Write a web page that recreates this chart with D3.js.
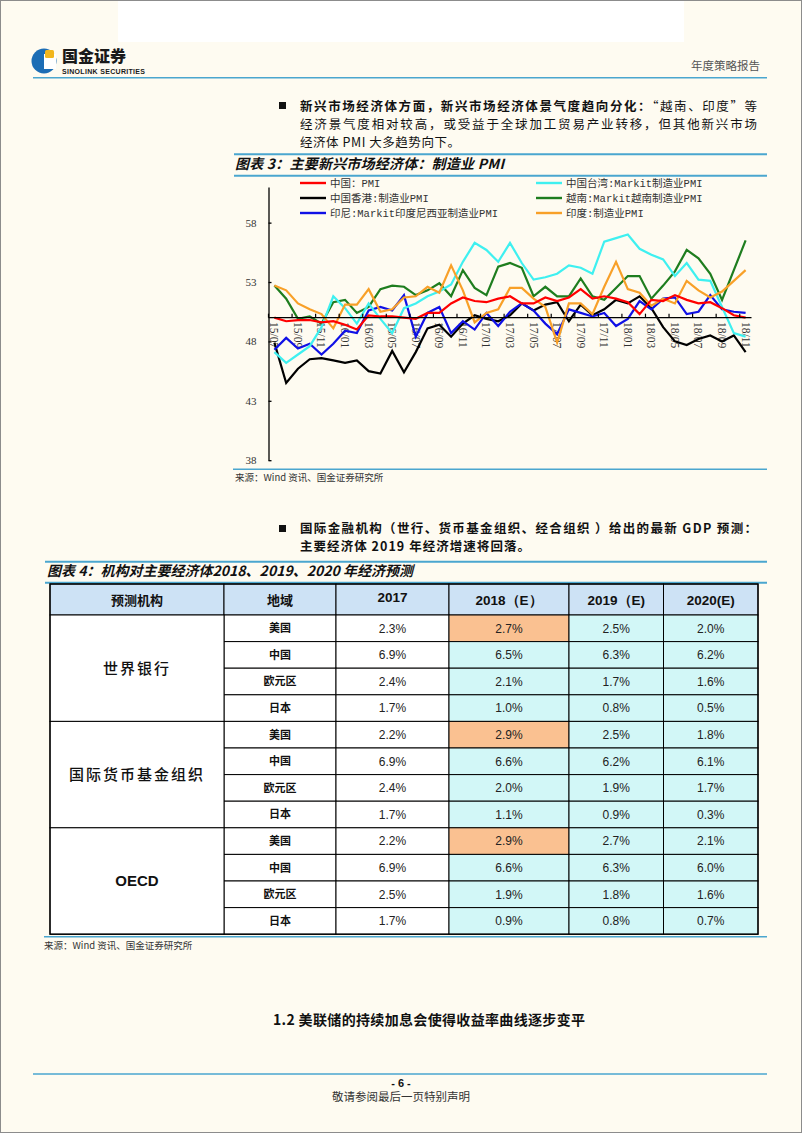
<!DOCTYPE html>
<html>
<meta charset="utf-8">
<style>
body {
  margin: 0;
  background: #fefbf1;
}
svg { display: block; }
.cn { font-family: "Noto Sans CJK SC", sans-serif; }
.axis text { font-family: "Liberation Serif", serif; font-size: 11px; fill: #333; }
.axis path, .axis line { stroke: #000; stroke-width: 1.3; }
</style>
<body>
<script src="https://d3js.org/d3.v7.min.js"></script>
<script>
// months on the x axis
var months = ["15/07","15/08","15/09","15/10","15/11","15/12","16/01","16/02","16/03","16/04","16/05","16/06",
  "16/07","16/08","16/09","16/10","16/11","16/12","17/01","17/02","17/03","17/04","17/05","17/06",
  "17/07","17/08","17/09","17/10","17/11","17/12","18/01","18/02","18/03","18/04","18/05","18/06",
  "18/07","18/08","18/09","18/10","18/11"];

// PMI series
var chinaPMI = [50.0,49.7,49.8,49.8,49.6,49.7,49.4,49.0,50.2,50.1,50.1,50.0,49.9,50.4,50.4,51.2,51.7,51.4,51.3,51.6,
  51.8,51.2,51.2,51.7,51.4,51.7,52.4,51.6,51.8,51.6,51.3,50.3,51.5,51.4,51.9,51.5,51.2,51.3,50.8,50.2,50.0];
var taiwanPMI = [47.1,46.2,46.9,47.6,49.2,51.8,50.8,49.5,51.2,49.9,48.7,50.8,51.2,51.8,52.2,52.8,54.7,56.3,55.7,54.7,
  56.3,54.6,53.2,53.4,53.7,54.4,54.2,53.7,56.4,56.7,57.0,55.8,55.3,54.9,53.5,54.6,53.2,53.1,50.9,48.7,48.4];
var hongkongPMI = [47.9,44.5,45.7,46.5,46.6,46.4,46.2,46.4,45.5,45.3,47.2,45.4,47.1,49.1,49.4,48.4,49.5,50.2,49.9,49.7,
  50.2,51.2,50.6,51.1,51.3,49.7,51.1,50.2,50.7,51.5,51.2,51.8,50.8,49.2,48.0,47.7,48.2,48.5,48.0,48.5,47.1];
var vietnamPMI = [52.7,51.6,49.9,50.1,49.5,51.3,51.5,50.4,50.9,52.4,52.7,52.6,51.9,52.3,52.9,51.8,54.0,52.5,51.9,54.3,
  54.6,54.2,51.8,52.6,51.8,51.8,53.3,51.8,51.5,52.5,53.5,53.5,51.6,52.7,53.9,55.7,55.0,53.7,51.5,54.0,56.5];
var indonesiaPMI = [47.3,48.3,47.4,47.8,46.9,47.8,48.9,48.7,50.6,50.9,50.6,51.9,48.4,50.4,50.9,48.7,49.7,49.0,50.4,49.3,
  50.5,51.2,50.6,49.5,48.6,50.7,50.4,50.1,50.4,49.3,49.9,51.4,50.7,51.6,51.7,50.3,50.5,51.9,50.7,50.5,50.4];
var indiaPMI = [52.7,52.3,51.2,50.7,50.3,49.1,51.1,51.1,52.4,50.5,50.7,51.7,51.8,52.6,52.1,54.4,52.3,49.6,50.4,50.7,
  52.5,52.5,51.6,50.9,47.9,51.2,51.2,50.3,52.6,54.7,52.4,52.1,51.0,51.6,51.2,53.1,52.3,51.7,52.2,53.1,54.0];

var seriesNames = ["中国：PMI","中国台湾:Markit制造业PMI","中国香港:制造业PMI","越南:Markit越南制造业PMI",
  "印尼:Markit印度尼西亚制造业PMI","印度:制造业PMI"];
var seriesColors = ["#ff0000","#3ff0f0","#000000","#1e7d1e","#1010e6","#f8a028"];
var yTicks = [38,43,48,53,58];

// table data
var orgs = ["世界银行","国际货币基金组织","OECD"];
var regions = ["美国","中国","欧元区","日本"];
var tableHeads = ["预测机构","地域","2017","2018（E）","2019（E)","2020(E)"];
var gdp2017 = [2.3,6.9,2.4,1.7, 2.2,6.9,2.4,1.7, 2.2,6.9,2.5,1.7];
var gdp2018 = [2.7,6.5,2.1,1.0, 2.9,6.6,2.0,1.1, 2.9,6.6,1.9,0.9];
var gdp2019 = [2.5,6.3,1.7,0.8, 2.5,6.2,1.9,0.9, 2.7,6.3,1.8,0.8];
var gdp2020 = [2.0,6.2,1.6,0.5, 1.8,6.1,1.7,0.3, 2.1,6.0,1.6,0.7];

var W = 802, H = 1133;
var blue = "#4aa6cf";

var svg = d3.select("body").append("svg")
    .attr("width", W)
    .attr("height", H);

svg.append("rect").attr("x",0.5).attr("y",0.5).attr("width",W-1).attr("height",H-1)
    .attr("fill","#fefbf1").attr("stroke","#8c8c8c");
svg.append("rect").attr("x",118).attr("y",1).attr("width",566).attr("height",41).attr("fill","#fff");

// ---- page header
svg.append("circle").attr("cx",44).attr("cy",61).attr("r",12.5).attr("fill","#1c6db5");
svg.append("rect").attr("x",44).attr("y",54).attr("width",12).attr("height",15).attr("fill","#fff");
svg.append("rect").attr("x",45).attr("y",50).attr("width",9).attr("height",8).attr("rx",1.5).attr("fill","#f2b61c");
svg.append("text").attr("class","cn").attr("x",62).attr("y",62)
    .style("font-size","16px").style("font-weight",900).attr("fill","#1a1a1a").text("国金证券");
svg.append("text").attr("x",62).attr("y",73.5).attr("textLength",83)
    .style("font-family","Liberation Sans").style("font-size","7px").style("font-weight","bold")
    .attr("fill","#1a1a1a").text("SINOLINK SECURITIES");
svg.append("text").attr("class","cn").attr("x",760).attr("y",69.5).attr("text-anchor","end")
    .style("font-size","11.5px").attr("fill","#555").text("年度策略报告");
svg.append("line").attr("x1",33).attr("x2",767).attr("y1",77.7).attr("y2",77.7)
    .attr("stroke",blue).attr("stroke-width",1.6);

// bullet paragraph helper
function para(x, y, parts, width) {
  var t = svg.append("text").attr("class","cn").attr("x",x).attr("y",y)
      .style("font-size","12.5px").attr("fill","#111");
  if (width) t.attr("textLength",width).attr("lengthAdjust","spacing");
  parts.forEach(function(p){
    t.append("tspan").style("font-weight", p[1] ? "bold" : "normal").text(p[0]);
  });
}
function bullet(y) {
  svg.append("rect").attr("x",279).attr("y",y-4).attr("width",7).attr("height",7).attr("fill","#111");
}

bullet(106);
para(300,110.5,[["新兴市场经济体方面，新兴市场经济体景气度趋向分化：",true],["“越南、印度”等",false]],457);
para(300,128.5,[["经济景气度相对较高，或受益于全球加工贸易产业转移，但其他新兴市场",false]],457);
para(300,146.5,[["经济体 PMI 大多趋势向下。",false]],160);

// figure 3 title
svg.append("line").attr("x1",234).attr("x2",767).attr("y1",154.3).attr("y2",154.3).attr("stroke",blue).attr("stroke-width",2);
svg.append("text").attr("class","cn").attr("x",235).attr("y",168.5).attr("textLength",269)
    .style("font-size","14px").style("font-weight","bold").style("font-style","italic")
    .attr("fill","#111").text("图表 3：主要新兴市场经济体：制造业 PMI");
svg.append("line").attr("x1",234).attr("x2",767).attr("y1",175.7).attr("y2",175.7).attr("stroke",blue).attr("stroke-width",2);

// ---- chart
var x = d3.scaleBand().domain(months).range([268.5, 751.5]);
var y = d3.scaleLinear().domain([38, 61]).range([460.2, 187]);
var cx = function(m){ return x(m) + x.bandwidth()/2; };

var yAxis = d3.axisLeft(y).tickValues(yTicks).tickSizeInner(-3).tickSizeOuter(0).tickPadding(12);
svg.append("g").attr("class","axis").attr("transform","translate(268.5,0)").call(yAxis);

var labelMonths = months.filter(function(d,i){ return i % 2 === 0; });

// x axis labels go under the lines
svg.append("g").selectAll("text")
    .data(labelMonths)
  .enter().append("text")
    .attr("transform", function(d){ return "translate(" + cx(d) + ",322) rotate(90)"; })
    .attr("dy","0.35em")
    .style("font-family","Liberation Serif").style("font-size","11.5px").attr("fill","#333")
    .text(function(d){ return d; });

var line = d3.line()
    .x(function(d,i){ return cx(months[i]); })
    .y(function(d){ return y(d); });

var allSeries = [chinaPMI, taiwanPMI, hongkongPMI, vietnamPMI, indonesiaPMI, indiaPMI];
var drawOrder = [2,4,3,1,5,0];
drawOrder.forEach(function(k){
  svg.append("path")
      .datum(allSeries[k])
      .attr("fill","none")
      .attr("stroke",seriesColors[k])
      .attr("stroke-width",2.2)
      .attr("stroke-linejoin","miter")
      .attr("d",line);
});

// horizontal axis at 50
svg.append("line").attr("x1",268.5).attr("x2",751.5).attr("y1",y(50)).attr("y2",y(50))
    .attr("stroke","#000").attr("stroke-width",1.4);
svg.append("g").selectAll("line")
    .data(labelMonths)
  .enter().append("line")
    .attr("x1",function(d){ return x(d); }).attr("x2",function(d){ return x(d); })
    .attr("y1",y(50)).attr("y2",y(50)-4)
    .attr("stroke","#000").attr("stroke-width",1.2);

// legend
var legend = svg.selectAll(".legend")
    .data(seriesNames)
  .enter().append("g")
    .attr("class","legend")
    .attr("transform", function(d,i){
      var col = [0,1,0,1,0,1][i], row = Math.floor(i/2);
      return "translate(" + (col ? 536 : 300) + "," + (183 + row*15) + ")";
    });
legend.append("line").attr("x1",0).attr("x2",26).attr("y1",0).attr("y2",0)
    .attr("stroke",function(d,i){ return seriesColors[i]; }).attr("stroke-width",2.4);
legend.append("text").attr("x",30).attr("dy","0.36em")
    .style("font-family","'Liberation Mono','Noto Sans CJK SC',monospace").style("font-size","10.5px")
    .attr("fill","#333").text(function(d){ return d; });

// source
svg.append("line").attr("x1",233).attr("x2",767).attr("y1",469.3).attr("y2",469.3).attr("stroke",blue).attr("stroke-width",1.6);
svg.append("text").attr("class","cn").attr("x",235).attr("y",481)
    .style("font-size","9.5px").attr("fill","#333").text("来源：Wind 资讯、国金证券研究所");

// ---- second paragraph
bullet(529);
para(300,533,[["国际金融机构（世行、货币基金组织、经合组织 ）给出的最新 GDP 预测：",true]],457);
para(300,551,[["主要经济体 2019 年经济增速将回落。",true]],230);

svg.append("line").attr("x1",45).attr("x2",767).attr("y1",561.7).attr("y2",561.7).attr("stroke",blue).attr("stroke-width",2);
svg.append("text").attr("class","cn").attr("x",47).attr("y",575.5).attr("textLength",366)
    .style("font-size","14px").style("font-weight","bold").style("font-style","italic")
    .attr("fill","#111").text("图表 4：机构对主要经济体2018、2019、2020 年经济预测");
svg.append("line").attr("x1",45).attr("x2",767).attr("y1",582.7).attr("y2",582.7).attr("stroke",blue).attr("stroke-width",2);

// ---- table
var colX = [50, 224, 336, 449, 569, 663.5, 758];
var headTop = 584, headH = 31, rowH = 26.6;
var rowTop = headTop + headH;

var rows = [];
orgs.forEach(function(o, g){
  regions.forEach(function(r, j){
    var k = g*4 + j;
    rows.push({org: o, group: g, region: r, vals: [gdp2017[k], gdp2018[k], gdp2019[k], gdp2020[k]]});
  });
});

var tbl = svg.append("g");
// header
tableHeads.forEach(function(h, c){
  tbl.append("rect").attr("x",colX[c]).attr("y",headTop).attr("width",colX[c+1]-colX[c]).attr("height",headH)
      .attr("fill","#cde2f5").attr("stroke","#000").attr("stroke-width",1);
  tbl.append("text").attr("x",(colX[c]+colX[c+1])/2).attr("y",headTop+headH/2 + (c==2 ? -2 : 1))
      .attr("dy","0.36em").attr("text-anchor","middle")
      .style("font-family", c < 2 ? "Noto Sans CJK SC" : "Liberation Sans")
      .style("font-size", c < 2 ? "13px" : "13.5px").style("font-weight","bold").attr("fill","#111")
      .text(h);
});

// body cells
rows.forEach(function(d, i){
  var ry = rowTop + i*rowH;
  tbl.append("rect").attr("x",colX[1]).attr("y",ry).attr("width",colX[2]-colX[1]).attr("height",rowH)
      .attr("fill","#fff").attr("stroke","#000");
  tbl.append("text").attr("class","cn").attr("x",(colX[1]+colX[2])/2).attr("y",ry+rowH/2).attr("dy","0.36em")
      .attr("text-anchor","middle").style("font-size","11px").style("font-weight","bold").attr("fill","#111")
      .text(d.region);
  d.vals.forEach(function(v, c){
    var fill = c === 0 ? "#fff" : (c === 1 && i % 4 === 0 ? "#fac191" : "#d2f7f7");
    tbl.append("rect").attr("x",colX[c+2]).attr("y",ry).attr("width",colX[c+3]-colX[c+2]).attr("height",rowH)
        .attr("fill",fill).attr("stroke","#000");
    tbl.append("text").attr("x",(colX[c+2]+colX[c+3])/2).attr("y",ry+rowH/2).attr("dy","0.36em")
        .attr("text-anchor","middle").style("font-family","Liberation Sans").style("font-size","12px")
        .attr("fill","#222").text(v.toFixed(1) + "%");
  });
});

// org cells spanning 4 rows
orgs.forEach(function(o, g){
  var gy = rowTop + g*4*rowH;
  tbl.append("rect").attr("x",colX[0]).attr("y",gy).attr("width",colX[1]-colX[0]).attr("height",4*rowH)
      .attr("fill","#fff").attr("stroke","#000");
  tbl.append("text").attr("x",(colX[0]+colX[1])/2).attr("y",gy+2*rowH).attr("dy","0.36em")
      .attr("text-anchor","middle")
      .style("font-family", g === 2 ? "Liberation Sans" : "Noto Sans CJK SC")
      .style("font-size","15px").style("font-weight", g === 2 ? "bold" : 500)
      .style("letter-spacing", g === 2 ? "0px" : "2px")
      .attr("fill","#111").text(o);
});
tbl.append("rect").attr("x",colX[0]).attr("y",headTop).attr("width",colX[6]-colX[0]).attr("height",headH+12*rowH)
    .attr("fill","none").attr("stroke","#000").attr("stroke-width",1.3);

var tblBottom = rowTop + 12*rowH;
svg.append("line").attr("x1",44).attr("x2",767).attr("y1",tblBottom+2.5).attr("y2",tblBottom+2.5).attr("stroke",blue).attr("stroke-width",1.6);
svg.append("text").attr("class","cn").attr("x",44).attr("y",949)
    .style("font-size","9.5px").attr("fill","#333").text("来源：Wind 资讯、国金证券研究所");

// section heading
svg.append("text").attr("class","cn").attr("x",273).attr("y",1025).attr("textLength",312)
    .style("font-size","14px").style("font-weight","bold").attr("fill","#111")
    .text("1.2  美联储的持续加息会使得收益率曲线逐步变平");

// footer
svg.append("line").attr("x1",33).attr("x2",767).attr("y1",1074).attr("y2",1074).attr("stroke",blue).attr("stroke-width",1.6);
svg.append("text").attr("x",401).attr("y",1087).attr("text-anchor","middle")
    .style("font-family","Liberation Sans").style("font-size","11px").style("font-weight","bold")
    .attr("fill","#111").text("- 6 -");
svg.append("text").attr("class","cn").attr("x",401).attr("y",1101).attr("text-anchor","middle")
    .style("font-size","11.5px").attr("fill","#333").text("敬请参阅最后一页特别声明");
</script>
</body>
</html>
